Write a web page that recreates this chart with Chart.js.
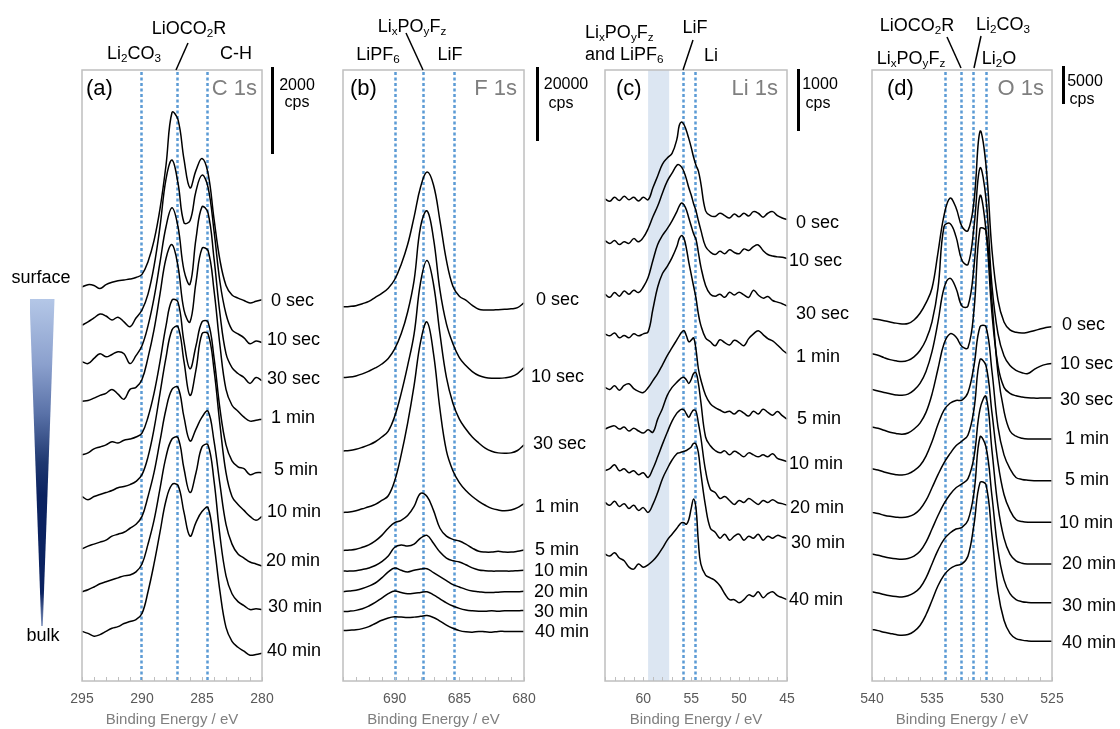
<!DOCTYPE html>
<html><head><meta charset="utf-8">
<script src="https://cdn.jsdelivr.net/npm/chart.js@4.4.1/dist/chart.umd.min.js"></script>
<style>
body{margin:0;background:#fff;width:1120px;height:729px;position:relative;overflow:hidden;font-family:"Liberation Sans",Arial,sans-serif;color:#000;}
canvas{position:absolute;top:0;}
.t{position:absolute;white-space:nowrap;line-height:1;}
.c{transform:translate(-50%,-50%);}
.l{transform:translateY(-50%);}
.r{transform:translate(-100%,-50%);}
.ann{font-size:18px;}
.lab{font-size:18px;}
.pl{font-size:22px;}
.pt{font-size:22px;color:#7f7f7f;}
.sb{font-size:16px;}
sub{font-size:0.65em;vertical-align:-0.28em;line-height:0;}
.bar{position:absolute;background:#000;width:3px;}
#tri{position:absolute;left:29.5px;top:299px;width:25px;height:327px;
 background:linear-gradient(to bottom,#b4c7e7 0%,#8ba0cd 20%,#5a72a8 35%,#1f3870 50%,#0b2260 60%,#0b2260 90%,#7f93bd 100%);
 clip-path:polygon(0 0,100% 0,53% 100%,47% 100%);}
svg{position:absolute;left:0;top:0;}
</style></head>
<body>
<script>
// ---------- DATA ----------
const depthLabels = ['0 sec','10 sec','30 sec','1 min','5 min','10 min','20 min','30 min','40 min'];

// C 1s
const energyC = [295,294.5,294,293.5,293,292.5,292,291.5,291,290.5,290,289.5,289,288.5,288,287.5,287,286.5,286,285.5,285,284.5,284,283.5,283,282.5,282,281.5,281,280.5,280];
const refC = [290.1, 287.1, 284.6];
const c1s = [
 [1028,1034,1032,1024,1034,1040,1044,1046,1048,1052,1060,1092,1145,1225,1335,1468,1450,1350,1278,1322,1352,1315,1200,1095,1032,1008,1000,994,988,992,996],
 [932,940,950,960,955,945,952,940,928,950,970,1010,1080,1180,1300,1348,1290,1190,1195,1270,1310,1280,1170,1040,960,920,910,900,885,892,888],
 [840,835,848,860,852,858,865,860,835,855,880,930,1000,1090,1180,1228,1180,1070,1035,1150,1230,1215,1100,960,860,825,810,800,785,800,792],
 [740,742,748,755,760,770,758,745,770,775,795,850,920,1010,1100,1135,1080,970,940,1040,1125,1120,1020,880,770,730,715,700,690,692,695],
 [605,610,620,625,630,638,635,642,645,650,660,700,760,840,930,995,990,890,822,880,940,940,850,720,630,590,575,570,555,560,560],
 [500,492,500,505,510,515,522,525,530,538,555,600,670,760,850,920,928,840,755,820,910,910,820,680,560,500,480,465,450,440,450],
 [368,375,380,385,390,400,405,410,420,430,450,500,560,640,720,770,775,700,640,670,700,715,640,530,430,380,355,345,335,330,325],
 [260,265,272,280,285,290,295,300,302,310,330,380,440,520,600,645,648,570,510,560,625,630,540,400,300,255,235,225,215,217,215],
 [160,155,148,152,160,168,172,180,185,190,205,260,330,410,490,530,528,460,400,435,462,472,380,260,170,135,120,110,100,102,105]
];

// F 1s
const energyF = [694,693.5,693,692.5,692,691.5,691,690.5,690,689.5,689,688.5,688,687.5,687,686.5,686,685.5,685,684.5,684,683.5,683,682.5,682,681.5,681,680.5,680];
const refF = [690, 687.8, 685.4];
const f1s = [
 [978,979,981,986,992,1002,1012,1025,1047,1085,1135,1205,1280,1318,1285,1195,1095,1030,1005,995,982,972,970,970,971,972,973,976,988],
 [800,801,804,809,816,824,834,848,872,910,965,1045,1180,1220,1150,1020,935,885,850,830,815,805,800,798,798,799,802,810,825],
 [615,616,619,624,630,638,650,665,702,760,830,910,1040,1095,1035,910,800,735,695,670,650,635,622,614,610,609,610,616,630],
 [460,461,464,469,474,480,490,502,540,605,685,780,890,940,860,720,615,565,535,515,500,488,478,470,466,464,466,472,482],
 [364,365,367,372,378,388,402,420,434,440,452,475,508,500,465,420,400,392,388,380,370,362,360,360,362,360,360,362,365],
 [312,312,313,316,320,326,336,350,372,378,375,380,395,402,382,360,345,338,335,328,320,315,313,312,312,312,312,313,314],
 [260,262,264,268,274,282,295,310,320,314,310,314,317,318,308,298,288,278,272,266,262,260,258,258,259,260,260,260,261],
 [210,211,213,217,224,233,244,255,262,258,255,256,258,260,252,242,232,224,218,214,212,211,211,212,211,212,212,212,213],
 [162,163,164,167,172,180,188,194,197,196,195,196,198,200,195,186,176,168,162,159,158,160,159,158,160,160,160,160,160]
];

// Li 1s
const energyLi = [64,63.5,63,62.5,62,61.5,61,60.5,60,59.5,59,58.5,58,57.5,57,56.5,56.25,56,55.75,55.5,55.25,55,54.75,54.5,54.25,54,53.5,53,52.5,52,51.5,51,50.5,50,49.5,49,48.5,48,47.5,47,46.5,46,45.5,45];
const refLi = [55.9, 54.6];
const bandLi = [59.5, 57.3];
const li1s = [
 [1250,1244,1254,1246,1257,1248,1254,1245,1254,1248,1278,1308,1338,1353,1365,1400,1435,1444,1437,1422,1402,1380,1355,1335,1320,1290,1220,1208,1206,1214,1208,1202,1212,1205,1214,1207,1218,1214,1204,1214,1218,1208,1202,1198],
 [1145,1138,1145,1135,1142,1138,1150,1142,1153,1175,1205,1232,1265,1295,1315,1335,1336,1330,1318,1300,1278,1260,1238,1220,1195,1172,1130,1116,1110,1118,1112,1122,1115,1112,1124,1120,1130,1134,1120,1110,1106,1104,1103,1100],
 [1010,1002,1014,1005,1018,1010,1020,1014,1028,1052,1095,1135,1158,1175,1195,1218,1232,1240,1235,1222,1202,1182,1162,1148,1115,1080,1032,1010,1005,1010,1002,1015,1008,1015,1008,1002,1020,1008,1000,1004,994,990,986,980],
 [910,905,912,900,906,900,910,905,910,915,972,1028,1062,1080,1102,1130,1150,1158,1150,1125,1090,1060,1030,1000,960,932,900,890,880,895,888,882,894,888,880,898,910,918,908,898,892,882,870,860],
 [775,770,779,768,780,784,772,765,762,774,792,810,832,855,875,895,905,914,918,905,890,894,900,870,822,795,755,734,724,718,712,715,708,717,710,703,715,708,720,712,705,714,704,695],
 [670,675,678,670,675,665,672,665,660,668,662,695,722,755,775,788,794,799,800,794,785,795,810,812,785,740,650,628,616,610,615,605,614,608,600,610,605,600,605,600,608,596,592,588],
 [565,570,580,565,570,560,565,555,560,548,570,600,632,662,690,710,716,720,718,708,700,710,718,715,685,650,565,518,510,495,500,490,480,490,485,495,488,480,490,485,492,485,482,478],
 [485,478,488,475,482,470,478,465,472,460,480,510,545,570,592,608,610,612,614,616,620,625,634,632,610,560,475,420,410,395,405,390,400,405,390,400,395,405,390,400,395,402,398,395],
 [355,350,358,345,338,322,317,330,322,328,338,352,370,390,405,420,428,434,434,430,442,470,494,470,385,330,302,295,288,275,255,240,240,232,240,252,248,260,245,255,260,250,245,240]
];

// O 1s
const energyO = [540,539.5,539,538.5,538,537.5,537,536.5,536,535.5,535,534.5,534,533.5,533,532.5,532,531.5,531,530.5,530,529.5,529,528.5,528,527.5,527,526.5,526,525.5,525];
const refO = [533.9, 532.6, 531.55, 530.5];
const o1s = [
 [948,946,943,940,937,935,936,945,962,988,1025,1115,1208,1252,1228,1180,1170,1245,1420,1335,1120,995,940,920,914,912,914,918,922,926,928],
 [860,856,850,845,842,840,843,852,868,895,940,1025,1180,1188,1155,1095,1085,1180,1328,1250,1030,910,855,830,818,812,810,820,828,833,835],
 [770,766,762,759,756,755,758,768,785,815,865,940,1025,1050,1025,980,980,1080,1258,1170,960,830,775,760,754,751,749,748,748,748,748],
 [675,672,667,662,659,657,660,670,685,712,758,822,885,910,902,878,875,970,1175,1170,990,810,715,665,652,647,645,645,645,645,645],
 [570,567,562,558,555,554,557,565,578,602,638,682,718,735,742,743,762,830,928,928,815,675,605,570,548,543,541,540,540,540,540],
 [460,457,453,450,448,447,449,455,468,490,522,555,585,608,628,640,655,720,845,830,710,585,505,465,442,437,435,435,435,435,435],
 [355,352,348,345,343,342,344,350,362,385,418,452,482,505,522,532,545,600,720,752,615,475,395,355,338,332,330,330,330,330,330],
 [260,257,253,250,248,247,250,257,270,295,330,365,392,408,418,422,440,510,650,625,500,365,290,255,240,235,233,232,232,232,232],
 [165,162,158,155,152,150,152,160,175,202,238,275,302,318,326,330,350,430,535,530,400,260,188,155,142,138,136,135,135,135,135]
];

// ---------- LAYOUT ----------
const FONT = '"Liberation Sans", Arial, sans-serif';
const panels = [
 {boxL:82,  boxR:262,  xmin:280, xmax:295, energy:energyC,  spectra:c1s,  refs:refC,  band:null,
  labX:[271,267,267,271,274,267,266,268,267], labY:[300,339,378,417,469,511,560,606,650]},
 {boxL:343, boxR:524,  xmin:680, xmax:694, energy:energyF,  spectra:f1s,  refs:refF,  band:null,
  labX:[536,531,533,535,535,534,534,534,535], labY:[299,376,443,506,549,570,591,611,631]},
 {boxL:605, boxR:787,  xmin:45,  xmax:64,  energy:energyLi, spectra:li1s, refs:refLi, band:bandLi,
  labX:[796,789,796,796,797,789,790,791,789], labY:[222,260,313,356,418,463,507,542,599]},
 {boxL:872, boxR:1052, xmin:525, xmax:540, energy:energyO,  spectra:o1s,  refs:refO,  band:null,
  labX:[1062,1060,1060,1065,1065,1059,1062,1062,1062], labY:[324,363,399,438,479,522,563,605,642]}
];

const panelPlugin = {
  id:'panel',
  beforeDatasetsDraw(chart, args, opts){
    const {ctx, chartArea:a} = chart; const x = chart.scales.x;
    ctx.save();
    if (opts.band){
      const x1 = x.getPixelForValue(opts.band[0]), x2 = x.getPixelForValue(opts.band[1]);
      ctx.fillStyle = '#dce6f2';
      ctx.fillRect(Math.min(x1,x2), a.top, Math.abs(x2-x1), a.bottom-a.top);
    }
    ctx.strokeStyle = '#5b9bd5'; ctx.lineWidth = 2.5; ctx.setLineDash([3,2.5]);
    opts.refs.forEach(r=>{
      const px = Math.round(x.getPixelForValue(r))+0.5;
      ctx.beginPath(); ctx.moveTo(px, a.top+2); ctx.lineTo(px, a.bottom); ctx.stroke();
    });
    ctx.restore();
  },
  afterDraw(chart){
    const {ctx, chartArea:a} = chart; const x = chart.scales.x;
    ctx.save();
    ctx.strokeStyle = '#bfbfbf'; ctx.lineWidth = 1.5;
    ctx.strokeRect(a.left, a.top, a.right-a.left, a.bottom-a.top);
    ctx.lineWidth = 1;
    x.ticks.forEach(t=>{
      const px = Math.round(x.getPixelForValue(t.value))+0.5;
      ctx.beginPath(); ctx.moveTo(px, a.bottom); ctx.lineTo(px, a.bottom-4); ctx.stroke();
    });
    ctx.restore();
  }
};

panels.forEach((p,pi)=>{
  const PAD = 40;
  const cv = document.createElement('canvas');
  cv.width = (p.boxR-p.boxL) + 2*PAD; cv.height = 729;
  cv.style.left = (p.boxL-PAD)+'px';
  document.body.appendChild(cv);
  new Chart(cv.getContext('2d'), {
    type:'line',
    data:{datasets: p.spectra.map((s,k)=>({
      label: depthLabels[k],
      data: p.energy.map((e,i)=>({x:e, y:s[i]})),
      borderColor:'#000', borderWidth:1.5, pointRadius:0, tension:0.4, fill:false, clip:false
    }))},
    options:{
      responsive:false, animation:false, devicePixelRatio:1, events:[],
      layout:{padding:{left:PAD, right:PAD, top:70, bottom:0}},
      plugins:{legend:{display:false}, tooltip:{enabled:false}, panel:{refs:p.refs, band:p.band}},
      scales:{
        x:{type:'linear', min:p.xmin, max:p.xmax, reverse:true,
           grid:{display:false, drawTicks:false}, border:{display:false},
           ticks:{stepSize:1, autoSkip:false, maxRotation:0, padding:10, color:'#595959',
                  font:{size:14, family:FONT}, callback:v=> (v%5===0 ? String(v) : '')},
           title:{display:true, text:'Binding Energy / eV', color:'#7f7f7f', font:{size:15, family:FONT}, padding:{top:0,bottom:0}},
           afterFit:s=>{ s.height = 48; }},
        y:{display:false, min:35, max:1575}
      }
    },
    plugins:[panelPlugin]
  });
  depthLabels.forEach((lab,k)=>{
    const d = document.createElement('div');
    d.className = 't l lab'; d.textContent = lab;
    d.style.left = p.labX[k]+'px'; d.style.top = p.labY[k]+'px';
    document.body.appendChild(d);
  });
});
</script>

<!-- panel letters and titles -->
<div class="t l pl" style="left:86px;top:88px">(a)</div>
<div class="t r pt" style="left:257px;top:88px">C 1s</div>
<div class="t l pl" style="left:350px;top:88px">(b)</div>
<div class="t r pt" style="left:517px;top:88px">F 1s</div>
<div class="t l pl" style="left:616px;top:88px">(c)</div>
<div class="t r pt" style="left:778px;top:88px">Li 1s</div>
<div class="t l pl" style="left:887px;top:88px">(d)</div>
<div class="t r pt" style="left:1044px;top:88px">O 1s</div>

<!-- peak annotations -->
<div class="t c ann" style="left:189px;top:28px">LiOCO<sub>2</sub>R</div>
<div class="t c ann" style="left:134px;top:53px">Li<sub>2</sub>CO<sub>3</sub></div>
<div class="t c ann" style="left:236px;top:53px">C-H</div>

<div class="t c ann" style="left:412px;top:26px">Li<sub>x</sub>PO<sub>y</sub>F<sub>z</sub></div>
<div class="t c ann" style="left:378px;top:54px">LiPF<sub>6</sub></div>
<div class="t c ann" style="left:450px;top:54px">LiF</div>

<div class="t l ann" style="left:585px;top:32px">Li<sub>x</sub>PO<sub>y</sub>F<sub>z</sub></div>
<div class="t l ann" style="left:585px;top:54px">and LiPF<sub>6</sub></div>
<div class="t c ann" style="left:695px;top:27px">LiF</div>
<div class="t c ann" style="left:711px;top:55px">Li</div>

<div class="t c ann" style="left:917px;top:25px">LiOCO<sub>2</sub>R</div>
<div class="t c ann" style="left:1003px;top:24px">Li<sub>2</sub>CO<sub>3</sub></div>
<div class="t c ann" style="left:911px;top:58px">Li<sub>x</sub>PO<sub>y</sub>F<sub>z</sub></div>
<div class="t c ann" style="left:999px;top:58px">Li<sub>2</sub>O</div>

<svg width="1120" height="729">
 <g stroke="#000" stroke-width="1.5">
  <line x1="188" y1="43" x2="176" y2="70"/>
  <line x1="406" y1="33" x2="423" y2="70"/>
  <line x1="693" y1="40" x2="683" y2="70"/>
  <line x1="947" y1="37" x2="961" y2="68"/>
  <line x1="981" y1="36" x2="974" y2="68"/>
 </g>
</svg>

<!-- intensity scale bars -->
<div class="bar" style="left:270.5px;top:67px;height:87px"></div>
<div class="t c sb" style="left:297px;top:85px">2000</div>
<div class="t c sb" style="left:297px;top:102px">cps</div>
<div class="bar" style="left:536px;top:67px;height:74px"></div>
<div class="t c sb" style="left:566px;top:84px">20000</div>
<div class="t c sb" style="left:561px;top:103px">cps</div>
<div class="bar" style="left:797px;top:69px;height:62px"></div>
<div class="t c sb" style="left:820px;top:84px">1000</div>
<div class="t c sb" style="left:818px;top:103px">cps</div>
<div class="bar" style="left:1061.5px;top:66px;height:38px"></div>
<div class="t c sb" style="left:1085px;top:81px">5000</div>
<div class="t c sb" style="left:1082px;top:99px">cps</div>

<!-- depth gradient -->
<div class="t c ann" style="left:41px;top:277px">surface</div>
<div id="tri"></div>
<div class="t c ann" style="left:43px;top:635px">bulk</div>
</body></html>
